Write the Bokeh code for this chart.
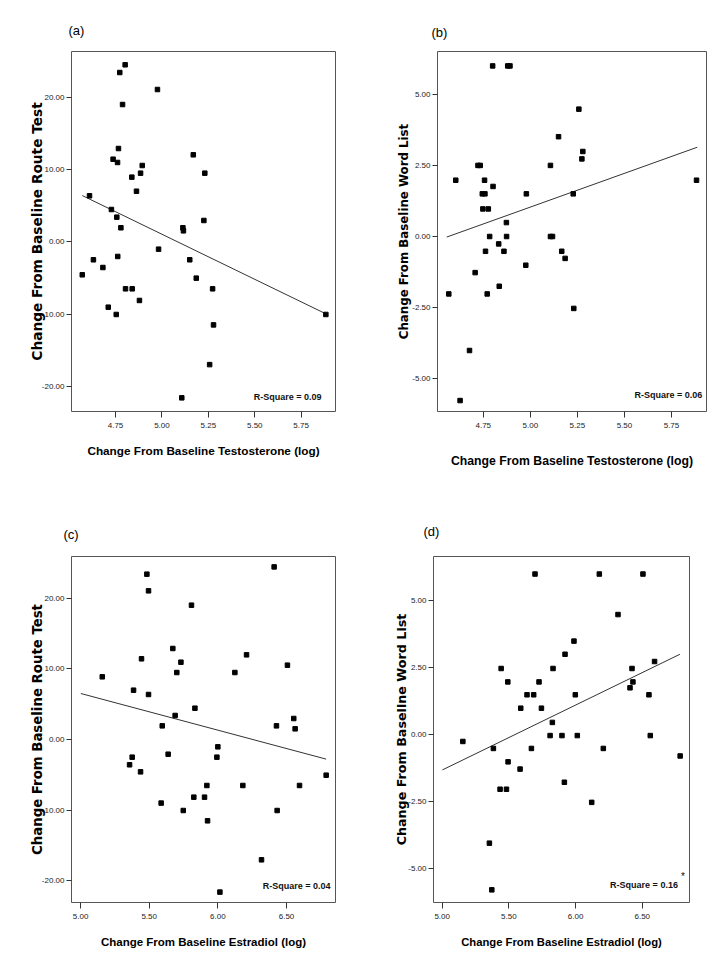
from bokeh.plotting import figure
from bokeh.models import Range1d, FixedTicker, PrintfTickFormatter, Label
from bokeh.layouts import column, row
from bokeh.embed import file_html
from bokeh.resources import INLINE

# ---------------- data ----------------
# (a) testosterone vs route test
testo_a_x = [4.571, 4.610, 4.631, 4.682, 4.711, 4.728, 4.737, 4.754, 4.757, 4.761, 4.762, 4.766,
             4.773, 4.779, 4.788, 4.802, 4.804, 4.838, 4.840, 4.863, 4.879, 4.885, 4.894, 4.976,
             4.982, 5.107, 5.113, 5.116, 5.150, 5.169, 5.185, 5.226, 5.231, 5.257, 5.273, 5.278, 5.883]
route_a_y = [-4.57, 6.37, -2.49, -3.56, -9.05, 4.47, 11.43, -10.06, 3.41, 10.98, -2.03, 12.91,
             23.43, 1.94, 19.0, 24.5, -6.51, 8.95, -6.51, 7.0, -8.12, 9.5, 10.56, 21.08,
             -1.02, -21.6, 1.94, 1.52, -2.49, 12.04, -5.03, 2.95, 9.5, -17.0, -6.51, -11.5, -10.06]
fit_a_x = [4.571, 5.883]
fit_a_y = [6.4, -9.97]

# (b) testosterone vs word list
testo_b_x = [4.567, 4.604, 4.627, 4.677, 4.707, 4.722, 4.734, 4.745, 4.748, 4.757, 4.759, 4.762,
             4.771, 4.777, 4.784, 4.800, 4.802, 4.832, 4.835, 4.860, 4.873, 4.874, 4.880, 4.892,
             4.976, 4.979, 5.107, 5.107, 5.118, 5.150, 5.167, 5.185, 5.228, 5.231, 5.258, 5.274,
             5.279, 5.883]
word_b_y = [-2.02, 1.98, -5.77, -4.01, -1.27, 2.50, 2.50, 1.50, 0.97, 1.98, 1.50, -0.52,
            -2.02, 0.97, 0.0, 6.0, 1.76, -0.26, -1.75, -0.52, 0.49, 0.0, 6.0, 6.0,
            -1.01, 1.50, 2.50, 0.0, 0.0, 3.51, -0.52, -0.77, 1.50, -2.53, 4.48, 2.73,
            2.99, 1.98]
fit_b_x = [4.556, 5.887]
fit_b_y = [-0.02, 3.14]

# (c) estradiol vs route test
estra_c_x = [5.158, 5.357, 5.376, 5.386, 5.437, 5.444, 5.483, 5.495, 5.495, 5.587, 5.595, 5.638,
             5.672, 5.689, 5.701, 5.731, 5.748, 5.808, 5.825, 5.833, 5.903, 5.920, 5.925, 5.993,
             6.000, 6.015, 6.124, 6.182, 6.209, 6.318, 6.410, 6.427, 6.432, 6.507, 6.553, 6.563,
             6.595, 6.789]
route_c_y = [8.87, -3.58, -2.50, 6.98, -4.58, 11.42, 23.40, 21.04, 6.37, -9.0, 1.93, -2.08,
             12.88, 3.40, 9.48, 10.94, -10.05, 19.01, -8.16, 4.43, -8.16, -6.51, -11.51, -2.50,
             -1.04, -21.6, 9.48, -6.51, 11.98, -17.03, 24.43, 1.93, -10.05, 10.52, 2.97, 1.51,
             -6.51, -5.05]
fit_c_x = [5.002, 6.789]
fit_c_y = [6.51, -2.78]

# (d) estradiol vs word list
estra_d_x = [5.155, 5.354, 5.372, 5.384, 5.434, 5.442, 5.482, 5.492, 5.494, 5.584, 5.589, 5.636,
             5.669, 5.686, 5.696, 5.726, 5.744, 5.809, 5.826, 5.831, 5.898, 5.916, 5.921, 5.988,
             5.998, 6.013, 6.121, 6.178, 6.208, 6.318, 6.408, 6.423, 6.430, 6.505, 6.550, 6.560,
             6.592, 6.784]
word_d_y = [-0.26, -4.05, -5.79, -0.52, -2.04, 2.46, -2.04, 1.96, -1.02, -1.29, 0.98, 1.48,
            -0.52, 1.48, 5.98, 1.96, 0.98, -0.04, 0.45, 2.46, -0.04, -1.78, 2.99, 3.48,
            1.48, -0.04, -2.53, 5.98, -0.52, 4.47, 1.74, 2.46, 1.96, 5.98, 1.48, -0.04,
            2.72, -0.80]
fit_d_x = [5.002, 6.782]
fit_d_y = [-1.32, 2.99]

testo_ticks = [4.75, 5.00, 5.25, 5.50, 5.75]
estra_ticks = [5.00, 5.50, 6.00, 6.50]
route_ticks = [-20.0, -10.0, 0.0, 10.0, 20.0]
word_ticks = [-5.0, -2.5, 0.0, 2.5, 5.0]

panel_tags = ["(a)", "(b)", "(c)", "(d)"]
x_titles = ["Change From Baseline Testosterone (log)", "Change From Baseline Testosterone (log)",
            "Change From Baseline Estradiol (log)", "Change From Baseline Estradiol (log)"]
y_titles = ["Change From Baseline Route Test", "Change From Baseline Word List",
            "Change From Baseline Route Test", "Change From Baseline Word List"]
r_square = ["R-Square = 0.09", "R-Square = 0.06", "R-Square = 0.04", "R-Square = 0.16"]

NARROW = "'Liberation Sans', sans-serif"
WIDE = "'DejaVu Sans', sans-serif"


def panel(tag, x, y, fx, fy, xr, yr, xt, yt, xlab, ylab, rsq, rpos, w, h, borders,
          title_off, title_standoff, xlab_size, ylab_size, xlab_standoff, ylab_standoff,
          star=None):
    top, right, bottom, left = borders
    p = figure(width=w, height=h, output_backend="svg", toolbar_location=None,
               x_range=Range1d(*xr), y_range=Range1d(*yr),
               min_border_top=top, min_border_right=right,
               min_border_bottom=bottom, min_border_left=left)
    p.background_fill_color = "white"
    p.border_fill_color = "white"
    p.outline_line_color = "#555555"
    p.outline_line_width = 1
    p.grid.visible = False

    p.title.text = tag
    p.title.align = "left"
    p.title.offset = title_off
    p.title.standoff = title_standoff
    p.title.text_font = NARROW
    p.title.text_font_style = "normal"
    p.title.text_font_size = "13px"
    p.title.text_color = "black"

    for ax in (p.xaxis[0], p.yaxis[0]):
        ax.axis_line_color = None
        ax.major_tick_in = 0
        ax.major_tick_out = 6
        ax.major_tick_line_color = "#333333"
        ax.minor_tick_line_color = None
        ax.major_label_text_font = NARROW
        ax.major_label_text_font_size = "8px"
        ax.major_label_text_color = "#222222"
        ax.formatter = PrintfTickFormatter(format="%.2f")
        ax.axis_label_text_color = "black"
        ax.axis_label_text_font_style = "bold"

    p.xaxis.ticker = FixedTicker(ticks=xt)
    p.yaxis.ticker = FixedTicker(ticks=yt)
    p.xaxis.major_label_standoff = 5
    p.yaxis.major_label_standoff = 2
    p.yaxis.major_tick_out = 5

    p.xaxis.axis_label = xlab
    p.xaxis.axis_label_text_font = NARROW
    p.xaxis.axis_label_text_font_size = xlab_size
    p.xaxis.axis_label_standoff = xlab_standoff

    p.yaxis.axis_label = ylab
    p.yaxis.axis_label_text_font = WIDE
    p.yaxis.axis_label_text_font_size = ylab_size
    p.yaxis.axis_label_standoff = ylab_standoff

    p.line(fx, fy, line_color="#333333", line_width=1)
    p.scatter(x, y, marker="square", size=4.5, fill_color="black", line_color="black")

    p.add_layout(Label(x=rpos[0], y=rpos[1], text=rsq, text_align="right",
                       text_baseline="alphabetic", text_font=NARROW,
                       text_font_style="bold", text_font_size="9px", text_color="#111111"))
    if star is not None:
        p.add_layout(Label(x=star[0], y=star[1], text="*", text_align="left",
                           text_baseline="top", text_font=NARROW,
                           text_font_size="10px", text_color="#111111"))
    return p


pa = panel(panel_tags[0], testo_a_x, route_a_y, fit_a_x, fit_a_y,
           (4.513, 5.935), (-23.49, 26.34), testo_ticks, route_ticks,
           x_titles[0], y_titles[0], r_square[0], (5.860, -21.55),
           364, 478, (51, 29, 67, 71), -3, 28, "11.75px", "13.7px", 13, -6)
pb = panel(panel_tags[1], testo_b_x, word_b_y, fit_b_x, fit_b_y,
           (4.507, 5.936), (-6.155, 6.507), testo_ticks, word_ticks,
           x_titles[1], y_titles[1], r_square[1], (5.913, -5.56),
           364, 478, (51, 22, 67, 73), -6, 24, "12.25px", "11.8px", 23, -2)
pc = panel(panel_tags[2], estra_c_x, route_c_y, fit_c_x, fit_c_y,
           (4.934, 6.857), (-23.07, 25.90), estra_ticks, route_ticks,
           x_titles[2], y_titles[2], r_square[2], (6.820, -20.75),
           364, 476, (78, 29, 52, 71), -8, 30, "11.5px", "13.3px", 14, -6)
pd = panel(panel_tags[3], estra_d_x, word_d_y, fit_d_x, fit_d_y,
           (4.935, 6.854), (-6.262, 6.634), estra_ticks, word_ticks,
           x_titles[3], y_titles[3], r_square[3], (6.767, -5.62),
           364, 476, (78, 39, 52, 69), -10, 35, "11.25px", "12.7px", 14, -4,
           star=(6.790, -5.08))

layout = column(row(pa, pb), row(pc, pd))
open("out.html", "w").write(file_html(layout, INLINE))
